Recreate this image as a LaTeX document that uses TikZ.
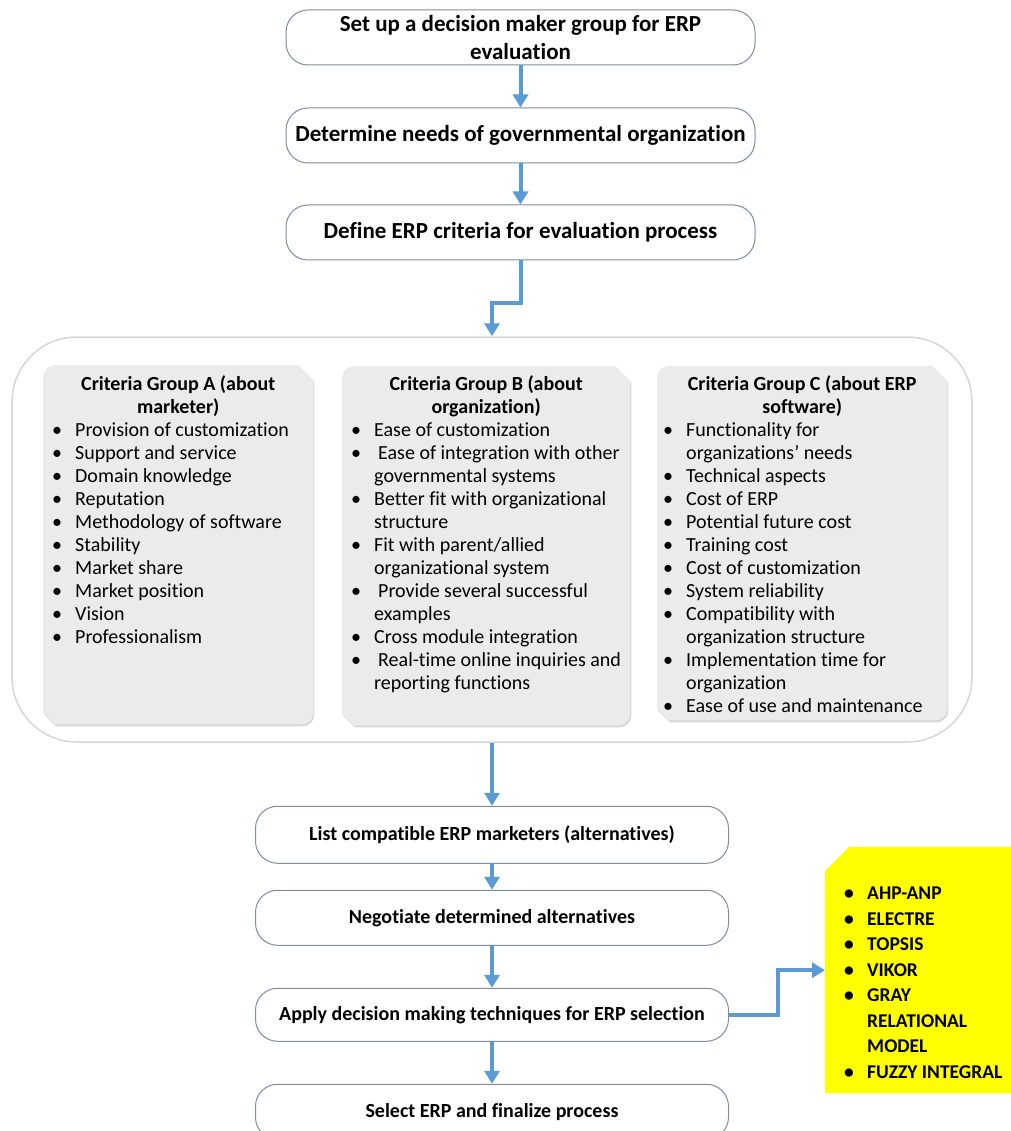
\documentclass[tikz,border=0pt]{standalone}
\usepackage{fontspec}
\setmainfont[Ligatures={TeX,NoCommon}]{Carlito}
\usetikzlibrary{arrows.meta, positioning, backgrounds}
\definecolor{cblue}{HTML}{5B9BD5}
\definecolor{cedge}{HTML}{7F8DA3}
\definecolor{clight}{HTML}{D6D6D6}
\definecolor{cgroup}{HTML}{EBEBEB}
\definecolor{cshade}{HTML}{D3D8DE}
\definecolor{cyellow}{HTML}{FFFF00}
\newcommand{\critem}[2][9pt]{\par\hangindent=\dimexpr#1+23pt\relax\hangafter=1\noindent\makebox[\dimexpr#1+23pt\relax][l]{\hspace{#1}\textbullet}#2}
\newcommand{\grpshape}[1]{([xshift=12pt]#1.north west) -- ([xshift=-15pt]#1.north east) -- ([yshift=-15pt]#1.north east) -- ([yshift=12pt]#1.south east) arc[start angle=0, end angle=-90, radius=12pt] -- ([xshift=12pt]#1.south west) -- ([yshift=12pt]#1.south west) -- ([yshift=-12pt]#1.north west) arc[start angle=180, end angle=90, radius=12pt] -- cycle}
\tikzset{
  stepbox/.style={draw=cedge, line width=1pt, fill=white, rounded corners=22pt, align=center, inner sep=0pt, minimum width=469pt, minimum height=55pt, font=\fontsize{23}{27.5}\selectfont\bfseries},
  lowbox/.style={stepbox, minimum width=473pt, font=\fontsize{20}{23}\selectfont\bfseries},
  critframe/.style={draw=clight, line width=1.5pt, rounded corners=65pt, minimum width=960pt, minimum height=405pt},
  critgroup/.style={inner sep=0pt, anchor=north west, font=\fontsize{20}{23}\selectfont},
  methodbox/.style={inner sep=0pt, anchor=north west, font=\fontsize{19.5}{25.5}\selectfont\bfseries},
  arrow/.style={-{Triangle[width=15pt, length=13pt]}, draw=cblue, line width=4pt},
}
\begin{document}
\begin{tikzpicture}[x=1pt, y=1pt]
  \useasboundingbox (0,0) rectangle (1010,-1131);
  % first three steps
  \node[stepbox] (setup) at (520.5,-37.5) {Set up a decision maker group for ERP\\ evaluation};
  \node[stepbox, below=42pt of setup] (needs) {Determine needs of governmental organization};
  \node[stepbox, below=41pt of needs] (define) {Define ERP criteria for evaluation process};
  % criteria groups
  \node[critframe] (crit) at (492,-539.5) {};
  \node[critgroup] (grpA) at (43,-365) {\parbox[t][359pt][t]{270pt}{\vspace*{10pt}%
    {\centering\bfseries Criteria Group A (about\\ marketer)\par}
    \critem{Provision of customization}
    \critem{Support and service}
    \critem{Domain knowledge}
    \critem{Reputation}
    \critem{Methodology of software}
    \critem{Stability}
    \critem{Market share}
    \critem{Market position}
    \critem{Vision}
    \critem{Professionalism}}};
  \node[critgroup] (grpB) at (342,-366) {\parbox[t][359pt][t]{288pt}{\vspace*{9pt}%
    {\centering\bfseries Criteria Group B (about\\ organization)\par}
    \critem{Ease of customization}
    \critem{\hspace{4pt}Ease of integration with other\\ governmental systems}
    \critem{Better fit with organizational\\ structure}
    \critem{Fit with parent/allied\\ organizational system}
    \critem{\hspace{4pt}Provide several successful\\ examples}
    \critem{Cross module integration}
    \critem{\hspace{4pt}Real-time online inquiries and\\ reporting functions}}};
  \node[critgroup] (grpC) at (657,-366) {\parbox[t][354pt][t]{290pt}{\vspace*{9pt}%
    {\centering\bfseries Criteria Group C (about ERP\\ software)\par}
    \critem[6pt]{Functionality for\\ organizations' needs}
    \critem[6pt]{Technical aspects}
    \critem[6pt]{Cost of ERP}
    \critem[6pt]{Potential future cost}
    \critem[6pt]{Training cost}
    \critem[6pt]{Cost of customization}
    \critem[6pt]{System reliability}
    \critem[6pt]{Compatibility with\\ organization structure}
    \critem[6pt]{Implementation time for\\ organization}
    \critem[6pt]{Ease of use and maintenance}}};
  % remaining steps
  \node[lowbox, minimum height=57pt, below=63pt of crit] (list) {List compatible ERP marketers (alternatives)};
  \node[lowbox, below=26pt of list] (negot) {Negotiate determined alternatives};
  \node[lowbox, minimum height=53pt, below=42pt of negot] (apply) {Apply decision making techniques for ERP selection};
  \node[lowbox, below=42pt of apply] (select) {Select ERP and finalize process};
  \node[methodbox] (meth) at (825,-847) {\parbox[t][246pt][t]{190pt}{\vspace*{40pt}%
    \critem[19pt]{AHP-ANP}
    \critem[19pt]{ELECTRE}
    \critem[19pt]{TOPSIS}
    \critem[19pt]{VIKOR}
    \critem[19pt]{GRAY\\ RELATIONAL\\ MODEL}
    \critem[19pt]{FUZZY INTEGRAL}}};
  \begin{scope}[on background layer]
    \foreach \g in {grpA, grpB, grpC} {
      \fill[cshade, transform canvas={shift={(1pt,-2pt)}}] \grpshape{\g};
      \fill[cgroup] \grpshape{\g};
    }
    \fill[cyellow] ([yshift=-24pt]meth.north west) -- ([xshift=24pt]meth.north west) -- (meth.north east) -- (meth.south east) -- (meth.south west) -- cycle;
  \end{scope}
  % connectors
  \foreach \a/\b in {setup/needs, needs/define, crit/list, list/negot, negot/apply, apply/select} \draw[arrow] (\a) -- (\b);
  \draw[arrow] (define.south) -- ++(0,-42pt) -| (crit.north);
  \draw[arrow] (apply.east) -- ++(49pt,0) |- (meth.west);
\end{tikzpicture}
\end{document}
